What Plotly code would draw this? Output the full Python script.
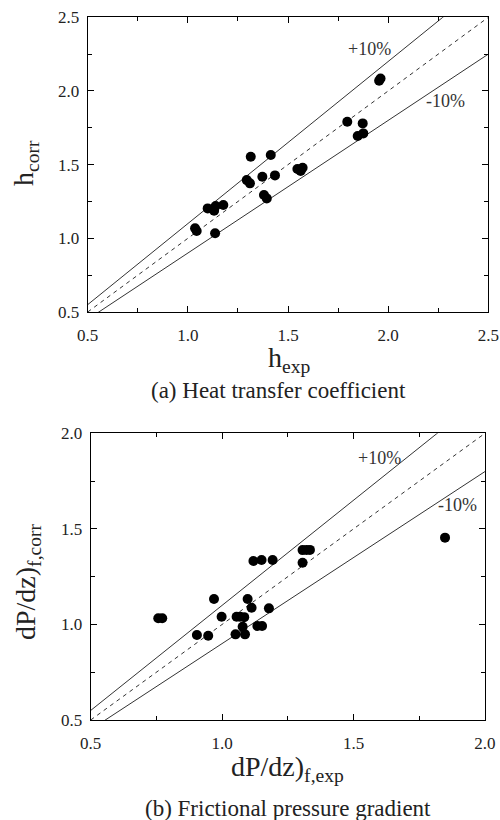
import plotly.graph_objects as go

# (a) heat transfer coefficient, correlation vs experiment
h_exp = [1.036, 1.044, 1.099, 1.131, 1.139, 1.177, 1.136, 1.380, 1.394,
         1.294, 1.310, 1.372, 1.435, 1.314, 1.414, 1.547, 1.563, 1.573,
         1.796, 1.873, 1.848, 1.876, 1.955, 1.962]
h_corr = [1.068, 1.050, 1.203, 1.187, 1.219, 1.226, 1.034, 1.294, 1.271,
          1.395, 1.373, 1.418, 1.427, 1.554, 1.565, 1.470, 1.457, 1.479,
          1.791, 1.780, 1.694, 1.712, 2.070, 2.085]

# (b) frictional pressure gradient, correlation vs experiment
dp_exp = [1.848, 1.306, 1.321, 1.334, 1.306, 1.119, 1.150, 1.192, 0.969,
          1.097, 1.112, 1.178, 0.998, 1.055, 1.068, 1.084, 0.757, 0.772,
          1.078, 0.904, 0.947, 1.051, 1.087, 1.134, 1.152]
dp_corr = [1.454, 1.389, 1.390, 1.390, 1.323, 1.332, 1.337, 1.337, 1.133,
           1.133, 1.087, 1.084, 1.040, 1.040, 1.040, 1.038, 1.032, 1.032,
           0.988, 0.945, 0.941, 0.948, 0.948, 0.992, 0.992]

# +10%, parity, -10% lines
band_ratios = [1.1, 1.0, 0.9]
band_labels = ['+10%', '-10%']

W, H = 500, 820
SERIF = 'Liberation Serif, Times New Roman, serif'


def fx(p):
    # pixel -> paper fraction (margins are zero, so paper == page)
    return p / W


def fy(p):
    return 1 - p / H


def axis_style(rng, domain, anchor, standoff):
    return dict(
        range=rng, domain=domain, anchor=anchor,
        showgrid=False, zeroline=False,
        showline=True, linecolor='black', linewidth=1.2, mirror='ticks',
        ticks='inside', ticklen=6, tickwidth=1, tickcolor='black',
        tick0=0.5, dtick=0.5, tickformat='.1f',
        minor=dict(ticks='inside', ticklen=4, dtick=0.25, tickwidth=1,
                   tickcolor='black', showgrid=False),
        tickfont=dict(family=SERIF, size=17, color='#222'),
        ticklabelstandoff=standoff,
        ticklabeloverflow='allow',
        automargin=False,
    )


fig = go.Figure()

panels = [
    (h_exp, h_corr, 'x', 'y', [0.5, 2.5]),
    (dp_exp, dp_corr, 'x2', 'y2', [0.5, 2.0]),
]

for xs, ys, xa, ya, rng in panels:
    line_x = [rng[0], rng[1]]
    for r in band_ratios:
        fig.add_trace(go.Scatter(
            x=line_x, y=[v * r for v in line_x],
            xaxis=xa, yaxis=ya, mode='lines', hoverinfo='skip',
            line=dict(color='#333', width=1, dash='solid' if r != 1.0 else '4px,4px'),
        ))
    fig.add_trace(go.Scatter(
        x=xs, y=ys, xaxis=xa, yaxis=ya, mode='markers',
        marker=dict(color='black', size=10),
    ))

top_x = [fx(87.7), fx(488.3)]
top_y = [fy(312), fy(17.3)]
bot_x = [fx(90.7), fx(485)]
bot_y = [fy(720), fy(433.3)]

fig.update_layout(
    width=W, height=H,
    margin=dict(l=0, r=0, t=0, b=0),
    paper_bgcolor='white', plot_bgcolor='white',
    showlegend=False,
    xaxis=axis_style([0.4999, 2.5001], top_x, 'y', 7),
    yaxis=axis_style([0.4999, 2.5001], top_y, 'x', 4),
    xaxis2=axis_style([0.4999, 2.0001], bot_x, 'y2', 7),
    yaxis2=axis_style([0.4999, 2.0001], bot_y, 'x2', 4),
)

label_font = dict(family=SERIF, size=18, color='#333')
ann = [
    # band labels
    dict(x=1.907, y=2.285, xref='x', yref='y', text=band_labels[0]),
    dict(x=2.288, y=1.932, xref='x', yref='y', text=band_labels[1]),
    dict(x=1.597, y=1.873, xref='x2', yref='y2', text=band_labels[0]),
    dict(x=1.897, y=1.625, xref='x2', yref='y2', text=band_labels[1]),
]
for a in ann:
    a.update(showarrow=False, font=label_font)

title_font = dict(family=SERIF, size=28, color='#222')
cap_font = dict(family=SERIF, size=23, color='#222')
ann += [
    dict(x=fx(289), y=fy(360), text='h<sub>exp</sub>', font=title_font),
    dict(x=fx(26), y=fy(163), text='h<sub>corr</sub>', font=title_font, textangle=-90),
    dict(x=fx(287), y=fy(768), text='dP/dz)<sub>f,exp</sub>', font=title_font),
    dict(x=fx(27), y=fy(582), text='dP/dz)<sub>f,corr</sub>', font=title_font, textangle=-90),
    dict(x=fx(278), y=fy(390), text='(a) Heat transfer coefficient', font=cap_font),
    dict(x=fx(288), y=fy(808), text='(b) Frictional pressure gradient', font=cap_font),
]
for a in ann[4:]:
    a.update(xref='paper', yref='paper', showarrow=False,
             xanchor='center', yanchor='middle')

fig.update_layout(annotations=ann)

# drop the browser's default body margin so the figure fills the window
fig.write_html("out.html",
               config={'displayModeBar': False},
               post_script="document.body.style.margin='0';document.body.style.overflow='hidden';")
